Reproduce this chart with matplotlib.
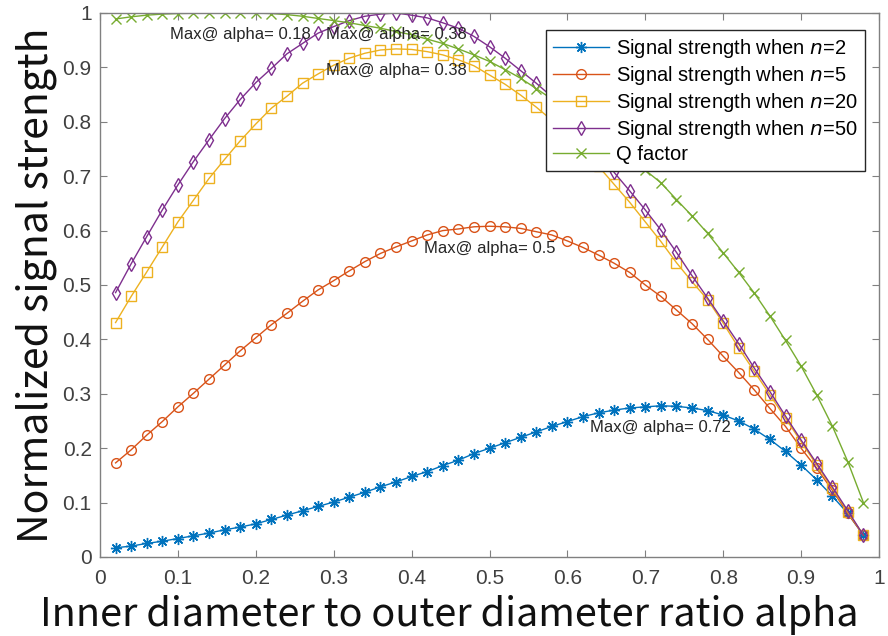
import matplotlib
matplotlib.use("Agg")
import matplotlib.pyplot as plt
import numpy as np

# Inner/outer diameter ratio
alpha = [0.02, 0.04, 0.06, 0.08, 0.10, 0.12, 0.14, 0.16, 0.18, 0.20,
         0.22, 0.24, 0.26, 0.28, 0.30, 0.32, 0.34, 0.36, 0.38, 0.40,
         0.42, 0.44, 0.46, 0.48, 0.50, 0.52, 0.54, 0.56, 0.58, 0.60,
         0.62, 0.64, 0.66, 0.68, 0.70, 0.72, 0.74, 0.76, 0.78, 0.80,
         0.82, 0.84, 0.86, 0.88, 0.90, 0.92, 0.94, 0.96, 0.98]

sig_n2 = [0.017, 0.020, 0.025, 0.029, 0.034, 0.039, 0.044, 0.050, 0.055, 0.061,
          0.069, 0.077, 0.085, 0.093, 0.101, 0.110, 0.119, 0.129, 0.138, 0.148,
          0.157, 0.168, 0.178, 0.190, 0.200, 0.210, 0.220, 0.230, 0.240, 0.249,
          0.258, 0.265, 0.270, 0.274, 0.276, 0.278, 0.277, 0.274, 0.269, 0.261,
          0.250, 0.235, 0.216, 0.194, 0.169, 0.142, 0.112, 0.080, 0.040]

sig_n5 = [0.173, 0.197, 0.224, 0.249, 0.276, 0.301, 0.327, 0.353, 0.379, 0.403,
          0.427, 0.448, 0.470, 0.491, 0.508, 0.526, 0.543, 0.558, 0.570, 0.581,
          0.592, 0.600, 0.603, 0.607, 0.608, 0.607, 0.604, 0.598, 0.592, 0.581,
          0.569, 0.555, 0.540, 0.523, 0.500, 0.479, 0.454, 0.429, 0.400, 0.369,
          0.339, 0.307, 0.273, 0.240, 0.200, 0.163, 0.123, 0.080, 0.040]

sig_n20 = [0.431, 0.479, 0.524, 0.570, 0.616, 0.656, 0.696, 0.731, 0.765, 0.796,
           0.825, 0.847, 0.871, 0.888, 0.904, 0.917, 0.926, 0.932, 0.934, 0.933,
           0.929, 0.923, 0.914, 0.903, 0.886, 0.869, 0.849, 0.827, 0.803, 0.777,
           0.749, 0.718, 0.685, 0.652, 0.616, 0.580, 0.541, 0.506, 0.473, 0.430,
           0.384, 0.341, 0.298, 0.255, 0.212, 0.169, 0.126, 0.083, 0.040]

sig_n50 = [0.486, 0.539, 0.589, 0.638, 0.684, 0.727, 0.767, 0.806, 0.841, 0.872,
           0.898, 0.925, 0.944, 0.963, 0.975, 0.986, 0.994, 0.998, 1.000, 0.996,
           0.991, 0.982, 0.972, 0.957, 0.938, 0.917, 0.894, 0.871, 0.846, 0.818,
           0.788, 0.752, 0.707, 0.673, 0.638, 0.601, 0.560, 0.517, 0.476, 0.434,
           0.392, 0.347, 0.304, 0.259, 0.215, 0.172, 0.129, 0.085, 0.040]

q_factor = [0.989, 0.993, 0.996, 0.998, 0.999, 0.9995, 0.9998, 0.9999, 1.000, 0.9998,
            0.999, 0.997, 0.994, 0.990, 0.986, 0.982, 0.977, 0.972, 0.966, 0.960,
            0.952, 0.944, 0.934, 0.923, 0.911, 0.896, 0.880, 0.861, 0.842, 0.823,
            0.803, 0.782, 0.759, 0.736, 0.711, 0.688, 0.657, 0.627, 0.595, 0.559,
            0.523, 0.485, 0.443, 0.398, 0.351, 0.298, 0.241, 0.175, 0.100]

labels = ["Signal strength when $n$=2", "Signal strength when $n$=5",
          "Signal strength when $n$=20", "Signal strength when $n$=50",
          "Q factor"]
x_ticks = [0, 0.1, 0.2, 0.3, 0.4, 0.5, 0.6, 0.7, 0.8, 0.9, 1]
y_ticks = [0, 0.1, 0.2, 0.3, 0.4, 0.5, 0.6, 0.7, 0.8, 0.9, 1]

series = [sig_n2, sig_n5, sig_n20, sig_n50, q_factor]
colors = ["#0072BD", "#D95319", "#EDB120", "#7E2F8E", "#77AC30"]
# asterisk (8 spokes), circle, square, diamond, cross
markers = [(8, 2, 0), "o", "s", "d", "x"]
msizes = [8, 7, 7, 7, 7]

plt.rcParams["font.family"] = ["Liberation Sans", "DejaVu Sans"]
plt.rcParams["mathtext.fontset"] = "dejavusans"

fig = plt.figure(figsize=(8.88, 6.36), dpi=100)
ax = fig.add_axes([100 / 888, 1 - 557 / 636, 779 / 888, 544 / 636])

for vals, c, m, ms, lab in zip(series, colors, markers, msizes, labels):
    ax.plot(alpha, vals, color=c, marker=m, markersize=ms, markerfacecolor="none",
            markeredgewidth=1.0, linewidth=1.0, label=lab)

# annotate each curve's peak position
for vals in series:
    i = int(np.argmax(vals))
    ax.text(alpha[i], vals[i] - 0.04, "Max@ alpha= %g" % alpha[i],
            ha="center", va="center", fontsize=12, color="#262626")

ax.set_xlim(0, 1)
ax.set_ylim(0, 1)
ax.set_xticks(x_ticks)
ax.set_yticks(y_ticks)
ax.set_xticklabels(["%g" % t for t in x_ticks])
ax.set_yticklabels(["%g" % t for t in y_ticks])
ax.tick_params(direction="in", top=True, right=True, length=5, width=0.8,
               color="#808080", labelsize=15, labelcolor="#404040")
ax.tick_params(axis="x", pad=9)
ax.tick_params(axis="y", pad=6)
for s in ax.spines.values():
    s.set_color("#808080")
    s.set_linewidth(1.0)

leg = ax.legend(loc="upper right", bbox_to_anchor=(865 / 888, 1 - 30 / 636),
                bbox_transform=fig.transFigure, fontsize=14.5, frameon=True,
                fancybox=False, edgecolor="#262626", framealpha=1.0,
                handlelength=2.8, handletextpad=0.35, borderpad=0.35,
                labelspacing=0.2, borderaxespad=0)
leg.get_frame().set_linewidth(1.0)

label_font = ["Noto Sans CJK SC", "DejaVu Sans"]
ax.set_xlabel("Inner diameter to outer diameter ratio alpha",
              fontsize=28.5, family=label_font, color="#111111", labelpad=0,
              ha="left")
ax.xaxis.set_label_coords((40 - 100) / 779, -0.07)
ax.set_ylabel("Normalized signal strength",
              fontsize=29.5, family=label_font, color="#111111", labelpad=4)

fig.savefig("out.png", dpi=100)
